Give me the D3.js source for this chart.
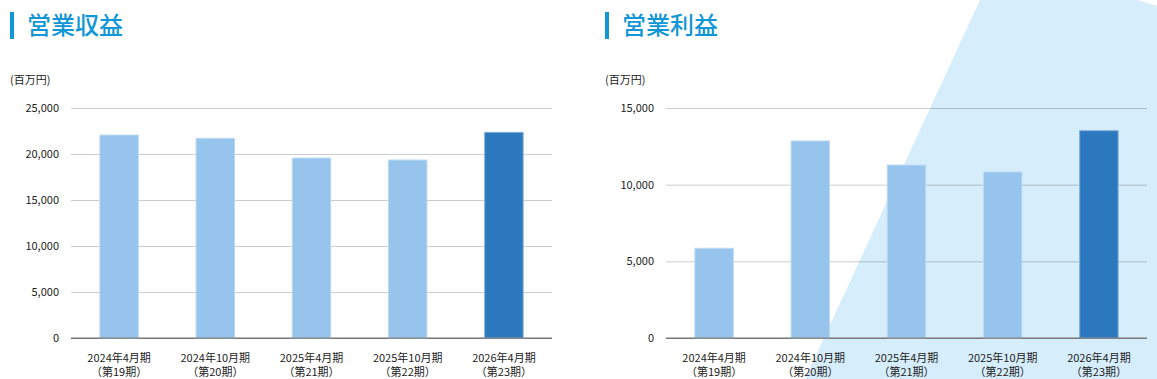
<!DOCTYPE html>
<html>
<head>
<meta charset="utf-8">
<script src="https://cdn.jsdelivr.net/npm/d3@7"></script>
<style>
  body { margin: 0; background: #fff; }
  svg { display: block; font-family: "Noto Sans CJK JP", "Noto Sans", sans-serif; }
</style>
</head>
<body>
<svg id="chart" width="1157" height="379"></svg>
<script>
// period labels (two lines each)
const periods = ['2024年4月期', '2024年10月期', '2025年4月期', '2025年10月期', '2026年4月期'];
const terms = ['（第19期）', '（第20期）', '（第21期）', '（第22期）', '（第23期）'];

// values in millions of yen
const revenue = [22060, 21700, 19560, 19350, 22350];
const profit = [5850, 12850, 11280, 10830, 13520];

const revenueTicks = [0, 5000, 10000, 15000, 20000, 25000];
const profitTicks = [0, 5000, 10000, 15000];

const W = 1157, H = 379;
const svg = d3.select('#chart');

// light blue decoration behind the right chart
svg.append('path')
	.attr('fill', '#d6edfb')
	.attr('d', d3.line()([[980, 0], [1137, 0], [W, 6], [W, H], [805, H]]) + 'Z');

const fmt = d3.format(',');

// draws one titled bar chart
const drawChart = (left, title, values, ticks, maxVal) => {
	const g = svg.append('g');
	const x0 = left + 61, x1 = left + 542, y0 = 108, y1 = 338;

	// title with accent bar
	g.append('rect')
		.attr('x', left).attr('y', 12)
		.attr('width', 4).attr('height', 27)
		.attr('fill', '#1196d6');
	g.append('text')
		.attr('x', left + 17).attr('y', 34)
		.attr('font-size', 24)
		.attr('font-weight', 500)
		.attr('fill', '#1196d6')
		.text(title);

	g.append('text')
		.attr('x', left).attr('y', 84)
		.attr('font-size', 11)
		.attr('fill', '#222')
		.text('(百万円)');

	const x = d3.scaleBand().domain(periods).range([x0, x1]).paddingInner(0.6).paddingOuter(0.3);
	const y = d3.scaleLinear().domain([0, maxVal]).range([y1, y0]);

	// gridlines and tick labels
	const yAxis = g.append('g')
		.attr('transform', `translate(${x0},0)`)
		.call(d3.axisLeft(y).tickValues(ticks).tickFormat(fmt).tickSize(-(x1 - x0)).tickPadding(12));
	yAxis.select('.domain').remove();
	yAxis.selectAll('.tick line')
		.attr('stroke', (d) => d === 0 ? '#777' : 'rgba(0,0,0,0.2)');
	yAxis.selectAll('.tick text')
		.attr('font-size', 11)
		.attr('font-family', '"Noto Sans CJK JP", sans-serif')
		.attr('fill', '#222');

	// bars, last period highlighted
	g.selectAll('rect.bar')
		.data(values)
		.join('rect')
		.attr('class', 'bar')
		.attr('x', (d, i) => x(periods[i]))
		.attr('width', x.bandwidth())
		.attr('y', (d) => y(d))
		.attr('height', (d) => y(0) - y(d))
		.attr('fill', (d, i) => i === values.length - 1 ? '#2c78be' : '#96c4ec')
		.attr('stroke', (d, i) => i === values.length - 1 ? '#7fb0dc' : '#bcdaf5')
		.attr('stroke-width', 1);

	// baseline drawn above the bars
	g.append('line')
		.attr('x1', x0).attr('x2', x1)
		.attr('y1', y(0)).attr('y2', y(0))
		.attr('stroke', '#777');

	// category labels
	const labels = g.selectAll('text.cat')
		.data(periods)
		.join('text')
		.attr('class', 'cat')
		.attr('text-anchor', 'middle')
		.attr('font-size', 11)
		.attr('fill', '#222');
	labels.append('tspan')
		.attr('x', (d) => x(d) + x.bandwidth() / 2)
		.attr('y', 362)
		.text((d) => d);
	labels.append('tspan')
		.attr('x', (d) => x(d) + x.bandwidth() / 2)
		.attr('y', 376)
		.text((d, i) => terms[i]);
};

drawChart(10, '営業収益', revenue, revenueTicks, 25000);
drawChart(605, '営業利益', profit, profitTicks, 15000);
</script>
</body>
</html>
